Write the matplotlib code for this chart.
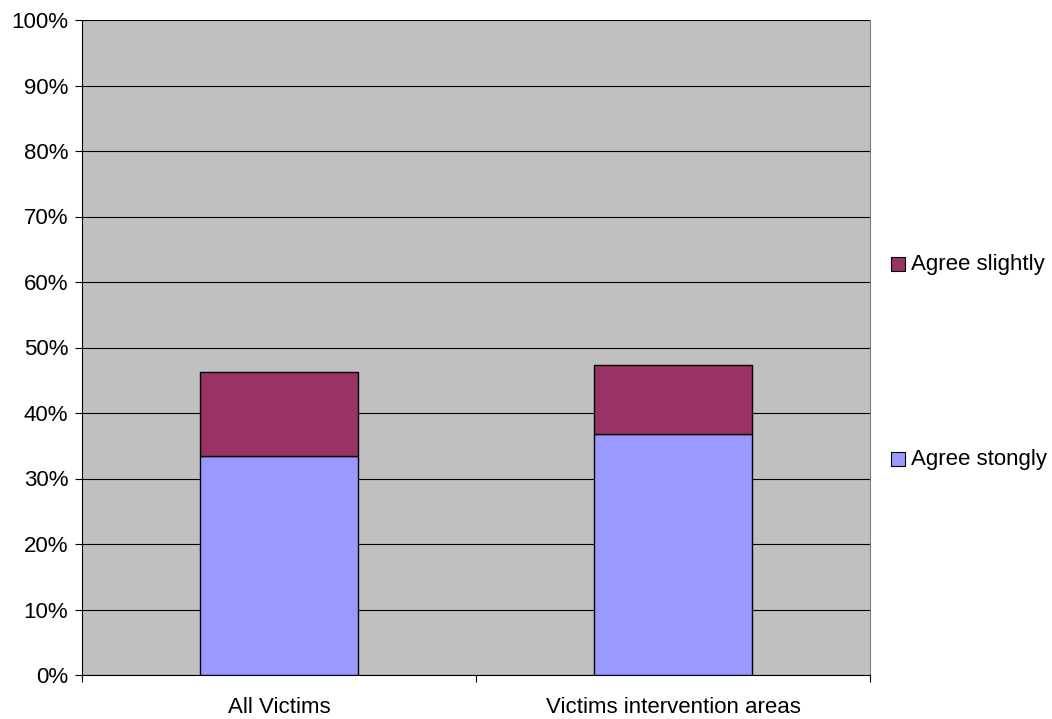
import matplotlib
matplotlib.use("Agg")
import matplotlib.pyplot as plt
from matplotlib.patches import Rectangle
from matplotlib.ticker import FuncFormatter, MultipleLocator

categories = ["All Victims", "Victims intervention areas"]
agree_strongly = [33.4, 36.8]
agree_slightly = [12.8, 10.6]
series_labels = ["Agree stongly", "Agree slightly"]
colors = ["#9999FF", "#993366"]

plt.rcParams['font.family'] = ['Liberation Sans', 'DejaVu Sans']
FS = 16

W, H = 1052, 719
fig = plt.figure(figsize=(W/100, H/100), dpi=100)
ax = fig.add_axes([82/W, 1-675/H, (870-82)/W, (675-20)/H])
ax.set_facecolor("#C0C0C0")

x = list(range(len(categories)))
ax.bar(x, agree_strongly, width=0.4, color=colors[0], edgecolor="black", linewidth=1, zorder=3)
ax.bar(x, agree_slightly, bottom=agree_strongly, width=0.4, color=colors[1], edgecolor="black", linewidth=1, zorder=3)

ax.set_xlim(-0.5, 1.5)
ax.set_ylim(0, 100)
ax.yaxis.set_major_locator(MultipleLocator(10))
ax.yaxis.set_major_formatter(FuncFormatter(lambda v, p: f"{int(round(v))}%"))
ax.grid(axis='y', color='black', linewidth=0.8, zorder=1)

ax.set_xticks([-0.5, 0.5, 1.5])
ax.set_xticklabels([])
ax.set_xticks(x, minor=True)
ax.set_xticklabels(categories, minor=True)
ax.tick_params(axis='x', which='minor', length=0, pad=16, labelsize=FS)
ax.tick_params(axis='x', which='major', length=5, direction='out', color='black')
ax.tick_params(axis='y', length=5, direction='out', labelsize=FS, pad=5)

ax.spines['top'].set_visible(False)
ax.spines['right'].set_color('#808080')
ax.spines['left'].set_color('black')
ax.spines['bottom'].set_color('black')

# legend (manual placement)
entries = [(series_labels[1], colors[1], 264), (series_labels[0], colors[0], 459)]
for lab, col, yc in entries:
    fig.add_artist(Rectangle((891/W, 1-(yc+7)/H), 14/W, 14/H, facecolor=col,
                             edgecolor='black', linewidth=0.8, transform=fig.transFigure))
    fig.text(911/W, 1-yc/H, lab, fontsize=FS, va='center', ha='left')

fig.savefig("out.png", dpi=100, facecolor='white')
